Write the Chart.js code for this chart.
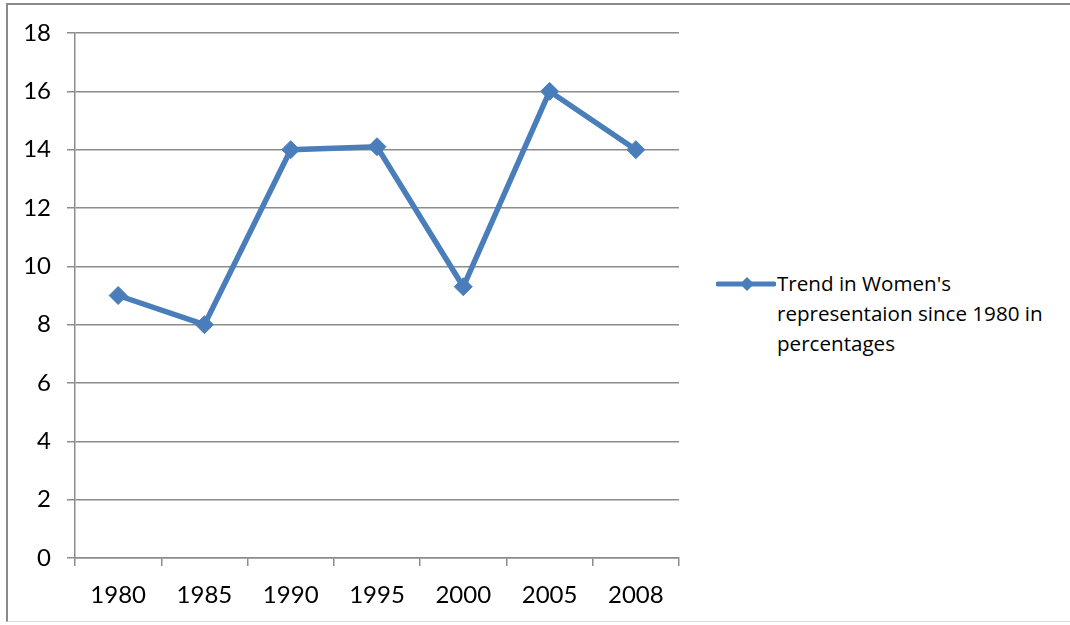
<!DOCTYPE html>
<html>
<head>
<meta charset="utf-8">
<script src="https://cdn.jsdelivr.net/npm/chart.js@4/dist/chart.umd.min.js"></script>
<style>
  html, body { margin: 0; padding: 0; background: #fff; }
  #frame { position: absolute; left: 6px; top: 3px; width: 1070px; height: 619px;
    border-left: 2px solid #8a8a8a; border-top: 2px solid #8a8a8a; border-bottom: 1px solid #d9d9d9; box-sizing: border-box; }
  #chartBox { position: absolute; left: 0; top: 0; width: 700px; height: 625px; }
  #legend { position: absolute; left: 716px; top: 268px; display: flex; align-items: flex-start;
    font-family: "Open Sans", Lato, sans-serif; font-size: 20.6px; line-height: 30px; color: #000; }
  #legend svg { flex: none; margin-top: 6px; margin-right: 1px; }
</style>
</head>
<body>
<div id="frame"></div>
<div id="chartBox"><canvas id="c"></canvas></div>
<div id="legend">
  <svg width="60" height="20" viewBox="0 0 60 20">
    <line x1="2" y1="10" x2="58" y2="10" stroke="#4a7ebb" stroke-width="5" stroke-linecap="round"/>
    <polygon points="31,3 38,10 31,17 24,10" fill="#4a7ebb"/>
  </svg>
  <div id="legendText"></div>
</div>
<script>
// ── data ──
const years = ['1980', '1985', '1990', '1995', '2000', '2005', '2008'];
const womenShare = [9, 8, 14, 14.1, 9.3, 16, 14];
const seriesLabel = "Trend in Women's representaion since 1980 in percentages";
const yTicks = [0, 2, 4, 6, 8, 10, 12, 14, 16, 18];

const lineBlue = '#4a7ebb';
const gridGray = '#8c8c8c';
const tickFont = { family: 'Lato, "Open Sans", sans-serif', size: 24 };

document.getElementById('legendText').innerHTML =
  "Trend in Women's<br>representaion since 1980 in<br>percentages";

new Chart(document.getElementById('c'), {
  type: 'line',
  data: {
    labels: years,
    datasets: [{
      label: seriesLabel,
      data: womenShare,
      borderColor: lineBlue,
      backgroundColor: lineBlue,
      borderWidth: 5.5,
      tension: 0,
      pointStyle: 'rectRot',
      pointRadius: 9,
      pointBorderWidth: 1,
      pointBackgroundColor: lineBlue,
      pointBorderColor: lineBlue,
    }]
  },
  options: {
    responsive: true,
    maintainAspectRatio: false,
    animation: false,
    layout: { padding: { left: 0, top: 33, right: 21, bottom: 0 } },
    plugins: { legend: { display: false }, tooltip: { enabled: false } },
    scales: {
      x: {
        offset: true,
        grid: { offset: true, drawOnChartArea: false, drawTicks: true, tickLength: 8, color: gridGray, lineWidth: 1.5 },
        border: { color: gridGray, width: 1.5 },
        ticks: { color: '#000', font: tickFont, padding: 15, maxRotation: 0 },
        afterFit: s => { s.height = 67; }
      },
      y: {
        min: 0, max: 18,
        afterBuildTicks: s => { s.ticks = yTicks.map(v => ({ value: v })); },
        grid: { color: gridGray, lineWidth: 1.5, tickLength: 8 },
        border: { color: gridGray, width: 1.5 },
        ticks: { color: '#000', font: tickFont, padding: 16 },
        afterFit: s => { s.width = 75; }
      }
    }
  }
});
</script>
</body>
</html>
